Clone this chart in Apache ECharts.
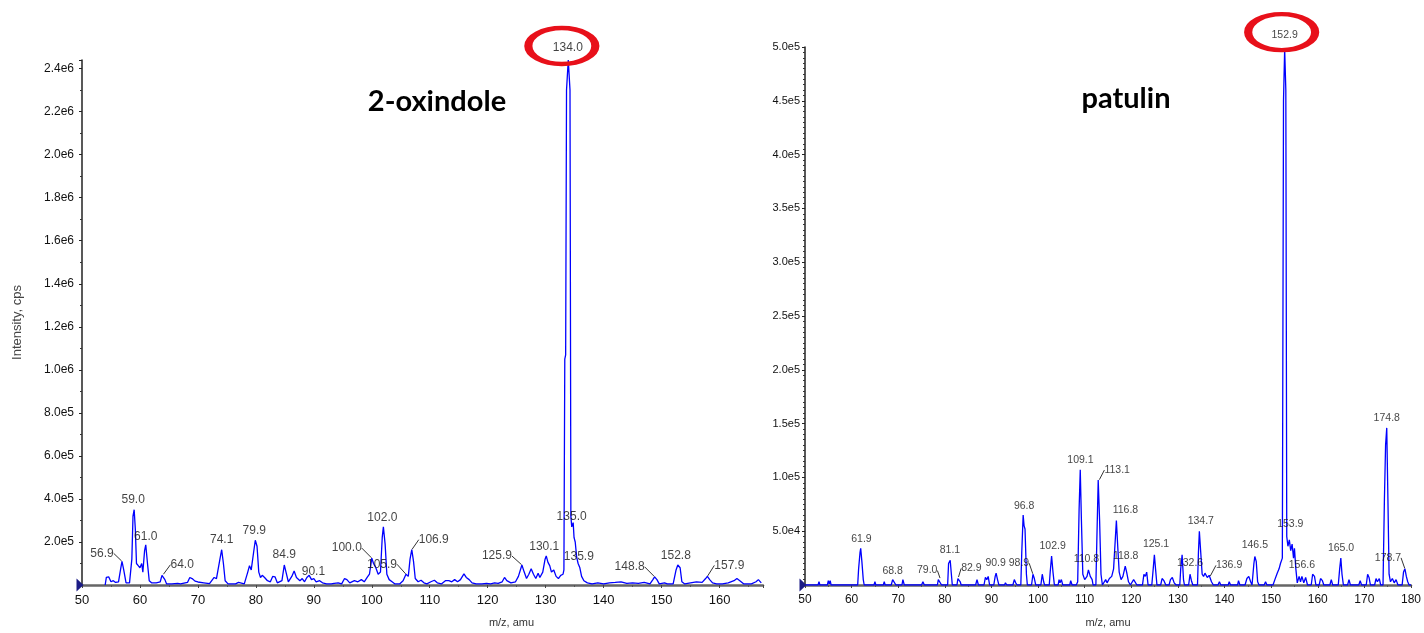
<!DOCTYPE html>
<html>
<head>
<meta charset="utf-8">
<script src="https://cdn.jsdelivr.net/npm/echarts@6/dist/echarts.min.js"></script>
<style>
html,body{margin:0;padding:0;background:#fff;}
#c{width:1424px;height:633px;}
</style>
</head>
<body>
<div id="c"></div>
<script>
// ---------- 2-oxindole (left) profile spectrum ----------
const mzL = [54.0,54.2,54.6,55.0,55.4,55.8,56.3,56.7,56.9,57.2,57.6,58.2,58.6,58.8,59.0,59.2,59.4,59.7,60.0,60.3,60.5,60.8,61.0,61.3,61.6,62.0,62.8,63.5,63.8,64.0,64.3,64.6,65.5,66.5,67.0,68.2,68.6,69.0,69.5,70.0,71.0,72.0,72.8,73.2,73.8,74.1,74.4,74.7,75.2,76.5,77.0,77.3,78.0,78.6,78.9,79.2,79.6,79.9,80.2,80.5,80.8,81.1,81.5,82.0,82.5,82.9,83.3,83.7,84.5,84.9,85.2,85.6,86.2,86.6,87.0,87.6,88.0,88.4,88.8,89.2,89.6,90.0,90.4,91.0,91.5,92.2,93.0,93.5,94.2,94.8,95.3,95.7,96.2,97.0,97.6,98.2,98.7,99.2,99.6,100.0,100.3,100.7,101.1,101.5,101.8,102.0,102.3,102.6,103.0,103.5,104.0,104.8,105.4,105.9,106.3,106.6,106.9,107.2,107.5,108.0,108.5,109.0,109.5,110.2,110.8,111.3,112.0,112.7,113.3,113.8,114.3,114.8,115.3,115.9,116.3,116.8,117.3,118.0,119.0,119.8,120.5,121.2,121.8,122.5,122.9,123.3,124.0,124.8,125.3,125.9,126.3,126.7,127.1,127.5,127.9,128.3,128.7,129.0,129.5,129.9,130.1,130.4,130.7,131.0,131.4,131.8,132.2,132.6,133.0,133.15,133.3,133.45,133.6,133.9,134.2,134.35,134.5,134.75,134.9,135.1,135.35,135.6,135.9,136.2,136.6,137.2,138.0,139.0,140.0,141.0,142.0,143.0,144.0,145.0,146.0,147.0,148.0,148.5,148.8,149.2,149.6,150.5,151.0,152.0,152.5,152.8,153.2,153.5,154.0,155.0,156.0,157.0,157.6,157.9,158.3,158.8,159.5,160.5,161.5,162.5,163.0,163.5,164.2,165.5,166.3,166.7,167.2];
const intL = [0,3.5e4,3.8e4,1.5e4,2.0e4,1.2e4,1.5e4,8e4,1.1e5,7e4,1.0e4,1.0e4,1.2e5,3.2e5,3.5e5,2.6e5,1.0e5,9e4,8e4,1.0e5,6e4,1.6e5,1.87e5,1.0e5,2e4,1e4,1e4,1.5e4,4.5e4,4.8e4,2.5e4,5e3,5e3,8e3,5e3,1.2e4,3.5e4,3e4,1.8e4,1.4e4,1e4,6e3,3.5e4,3e4,1.2e5,1.64e5,1.0e5,2e4,5e3,5e3,1.2e4,4e3,5e3,6e4,9e4,7e4,1.5e5,2.08e5,1.8e5,6e4,3.5e4,4.5e4,3.5e4,2e4,1.5e4,4e4,3.8e4,1e4,2e4,9.3e4,6e4,1.5e4,4e4,6.5e4,3.5e4,2e4,3e4,1.5e4,3.5e4,4.5e4,2.5e4,3e4,1.5e4,2e4,1e4,5e3,5e3,8e3,1e4,5e3,3e4,2.5e4,1e4,2e4,1.5e4,2.5e4,1.5e4,3.5e4,5e4,1.25e5,1.0e5,8e4,5e4,6e4,2.2e5,2.7e5,1.9e5,5e4,2.5e4,1.5e4,5e3,5e3,2e4,5e4,4e4,1.2e5,1.64e5,1.1e5,3e4,1.5e4,2.2e4,1e4,5e3,1.5e4,2.2e4,1e4,5e3,2e4,2e4,1.5e4,2.5e4,1.5e4,2.5e4,5.2e4,3.5e4,2.5e4,1e4,5e3,5e3,8e3,5e3,1e4,8e3,1.5e4,3.5e4,2e4,1e4,1.5e4,4e4,9.3e4,6e4,3e4,5e4,7.5e4,5e4,3e4,5.5e4,3.5e4,6e4,1.2e5,1.35e5,1.05e5,9e4,6e4,7e4,4e4,3e4,4.5e4,5e4,7e4,1.05e6,1.07e6,2.3e6,2.44e6,2.3e6,3.2e5,2.7e5,2.9e5,2.2e5,2.0e5,1.3e5,1.0e5,8e4,4e4,2e4,1e4,5e3,1e4,5e3,1e4,1.2e4,1.5e4,8e3,1e4,8e3,1.2e4,5e3,2.5e4,3.8e4,2.5e4,5e3,1e4,5e3,5e3,7e4,9.3e4,8e4,1.5e4,5e3,1e4,1.5e4,1.2e4,3e4,4e4,2.5e4,1e4,5e3,5e3,1e4,2e4,3e4,2e4,5e3,5e3,1.5e4,2.5e4,1e4];
const peakMzL  = [56.9,59.0,61.0,64.0,74.1,79.9,84.9,90.1,100.0,102.0,105.9,106.9,125.9,130.1,134.0,135.0,135.9,148.8,152.8,157.9];
const peakIntL = [1.1e5,3.5e5,1.87e5,4.8e4,1.64e5,2.08e5,9.3e4,3e4,1.25e5,2.7e5,5e4,1.64e5,9.3e4,1.35e5,2.44e6,2.9e5,1.0e5,3.8e4,9.3e4,4e4];
const xTicksL = {min: 50, max: 167.5, interval: 10};
const yTicksL = {min: 0, max: 2.44e6, interval: 2e5};

// ---------- patulin (right) profile spectrum ----------
const mzR = [50.0,52.8,53.0,53.2,54.8,55.0,55.2,55.4,55.6,61.3,61.5,61.8,61.95,62.2,62.5,62.7,64.8,65.0,65.2,66.8,67.0,67.2,68.5,68.8,69.2,69.5,70.8,71.0,71.3,75.0,75.3,75.6,78.4,78.6,79.0,79.3,80.6,80.8,81.0,81.15,81.4,81.6,82.6,82.8,83.0,83.3,83.5,86.6,86.9,87.2,88.4,88.7,89.0,89.3,89.6,90.5,90.8,91.0,91.3,91.6,92.8,93.0,93.3,94.6,94.9,95.2,95.5,96.3,96.5,96.8,97.0,97.2,97.5,97.7,98.6,98.9,99.2,99.5,100.6,100.9,101.2,101.4,102.4,102.6,102.9,103.2,103.5,104.3,104.5,104.7,105.0,105.3,106.8,107.0,107.3,108.2,108.5,108.8,109.05,109.3,109.6,110.0,110.5,110.8,111.2,111.6,111.8,112.4,112.6,112.9,113.2,113.5,113.8,114.2,114.5,114.8,115.3,115.8,116.2,116.6,116.8,117.1,117.4,117.8,118.2,118.7,119.0,119.4,119.8,120.2,120.5,120.9,121.2,122.4,122.7,123.0,123.3,123.6,124.4,124.7,124.95,125.2,125.5,126.3,126.6,127.0,127.4,128.1,128.4,128.8,129.2,129.6,130.4,130.6,130.9,131.2,131.4,132.3,132.6,132.9,133.2,134.2,134.4,134.6,134.9,135.2,135.5,135.8,136.3,136.7,137.2,137.6,138.6,138.9,139.2,140.8,141.0,141.3,142.8,143.0,143.3,144.4,144.8,145.2,145.6,145.9,146.1,146.3,146.5,146.8,147.1,147.4,148.5,148.8,149.1,150.4,150.8,151.3,151.7,152.0,152.4,152.55,152.65,152.9,153.15,153.35,153.6,153.9,154.2,154.5,154.8,155.0,155.3,155.6,156.0,156.3,156.6,157.0,157.4,157.8,158.6,158.9,159.3,159.6,160.3,160.6,161.0,161.3,162.6,162.9,163.2,164.4,164.7,164.95,165.2,165.5,166.4,166.7,167.0,168.8,169.1,169.4,170.4,170.7,171.0,171.3,172.2,172.5,172.8,173.2,173.5,174.0,174.3,174.55,174.8,175.05,175.3,175.6,176.0,176.4,176.8,177.2,178.1,178.4,178.7,179.0,179.3,179.6,180.0];
const intR = [0,0,3e3,0,0,4e3,1e3,4e3,0,0,1.5e4,3.0e4,3.4e4,2.2e4,5e3,0,0,3e3,0,0,3e3,0,0,5e3,4e3,0,0,5e3,0,0,3e3,0,0,5e3,6e3,0,0,2e4,2.1e4,2.3e4,1e4,0,0,6e3,7e3,3e3,0,0,5e3,0,0,7e3,5e3,8e3,0,0,8e3,1.1e4,5e3,0,0,2e3,0,0,5e3,2e3,0,0,3e4,6.5e4,5.5e4,5.2e4,1e4,0,0,1e4,6e3,0,0,1e4,3e3,0,0,1.2e4,2.7e4,1.2e4,0,0,5e3,2e3,5e3,0,0,4e3,0,0,3e3,7e4,1.07e5,6e4,1e4,5e3,8e3,1.4e4,8e3,5e3,0,0,4e4,9.75e4,6e4,1e4,0,0,5e3,2e3,6e3,8e3,1.5e4,4.5e4,6.0e4,3.5e4,1.2e4,5e3,8e3,1.75e4,1.2e4,3e3,0,0,5e3,4e3,0,0,1e4,8e3,1.2e4,0,0,1.5e4,2.8e4,1.5e4,0,0,6e3,4e3,0,0,5e3,7e3,2e3,0,0,1.5e4,2.8e4,5e3,0,0,1e4,4e3,0,0,3e4,5.0e4,3e4,1e4,8e3,1.1e4,7e3,9e3,3e3,0,0,3e3,0,0,3e3,0,0,4e3,0,0,6e3,8e3,3e3,0,0,2e4,2.65e4,2.2e4,3e3,0,0,3e3,0,0,5e3,1.1e4,1.5e4,2e4,2.5e4,2.5e4,4.5e5,4.98e5,4.6e5,4.5e4,3.6e4,4.2e4,3.2e4,3.8e4,2.5e4,3.4e4,1.5e4,2e3,8e3,3e3,8e3,2e3,7e3,0,0,1e4,8e3,0,0,6e3,4e3,0,0,5e3,0,0,1.5e4,2.5e4,1e4,0,0,5e3,0,0,4e3,0,0,1e4,7e3,0,0,6e3,3e3,6e3,0,0,8e4,1.3e5,1.46e5,8e4,1e4,3e3,6e3,2e3,5e3,0,0,1.2e4,1.5e4,8e3,3e3,0,0];
const peakMzR  = [61.9,68.8,79.0,81.1,82.9,90.9,96.8,98.9,102.9,109.1,110.8,113.1,116.8,118.8,125.1,132.6,134.7,136.9,146.5,152.9,153.9,156.6,165.0,174.8,178.7];
const peakIntR = [3.4e4,5e3,6e3,2.3e4,7e3,1.1e4,6.5e4,1e4,2.7e4,1.07e5,1.4e4,9.75e4,6.0e4,1.75e4,2.8e4,1.0e4,5.0e4,8e3,2.65e4,4.98e5,4.2e4,8e3,2.5e4,1.46e5,1.5e4];
const xTicksR = {min: 50, max: 180, interval: 10};
const yTicksR = {min: 0, max: 5.0e5, interval: 5e4};

// ---------- text ----------
const titleL = '2-oxindole';
const titleR = 'patulin';
const xName = 'm/z, amu';
const yName = 'Intensity, cps';
const circledL = 134.0;
const circledR = 152.9;

// ---------- layout (pixels), kept apart from data ----------
const labelOffL = [[-20,-8],[-1,-10],[0,-8],[19,-10],[0,-10],[-1,-10],[0,-10],[-1,-7],[-25,-10],[-1,-9],[-24,-10],[22,-10],[-25,-9],[-2,-9],[-1,-12],[-3,-6],[-1,-7],[-25,-10],[-2,-9],[22,-11]];
const leaderL = [56.9,64.0,100.0,105.9,106.9,125.9,148.8,157.9];
const labelOffR = [[1,-9],[0,-9],[-13,-8],[0,-10],[13,-9],[0,-10],[1,-9],[-14,-11],[1,-10],[0,-10],[-2,-11],[18,-10],[9,-10],[0,-10],[1,-11],[0,-11],[1,-10],[19,-11],[0,-11],[0,-14],[1,-16],[0,-11],[0,-10],[0,-10],[-17,-11]];
const leaderR = [79.0,82.9,98.9,113.1,136.9,178.7];

const SANS = '"Liberation Sans", Arial, sans-serif';

function sci(v) {
  if (v === 0) return '';
  let e = Math.floor(Math.log10(v) + 1e-9);
  let m = v / Math.pow(10, e);
  let s = m.toFixed(1);
  if (s === '10.0') { e += 1; s = '1.0'; }
  return s + 'e' + e;
}
function zip(a, b) { return a.map((x, i) => [x, b[i]]); }

function peakData(mz, inten, leaders) {
  return mz.map((m, i) => ({
    value: [m, inten[i]],
    name: m.toFixed(1),
    labelLine: { show: leaders.indexOf(m) >= 0 }
  }));
}

function xAxisCfg(t, gridIndex, fs, showMax, namePadLeft) {
  return {
    type: 'value', gridIndex: gridIndex, min: t.min, max: t.max, interval: t.interval,
    name: xName, nameLocation: 'middle', nameGap: 32,
    nameTextStyle: { fontFamily: SANS, fontSize: 11, color: '#333', padding: [0, 0, 0, namePadLeft] },
    axisLine: { show: true, onZero: false, lineStyle: { color: '#666', width: 2.5 } },
    axisTick: { show: true, length: 3, lineStyle: { color: '#444' } },
    minorTick: { show: true, splitNumber: 2, length: 2, lineStyle: { color: '#555' } },
    axisLabel: { fontFamily: SANS, fontSize: fs, color: '#111', margin: 9, showMaxLabel: showMax, showMinLabel: true },
    splitLine: { show: false }
  };
}
function yAxisCfg(t, gridIndex, fs, minorSplit, margin, withName) {
  const c = {
    type: 'value', gridIndex: gridIndex, min: t.min, max: t.max, interval: t.interval,
    axisLine: { show: true, lineStyle: { color: '#222', width: 1.5 } },
    axisTick: { show: true, length: 3, lineStyle: { color: '#222' } },
    minorTick: { show: true, splitNumber: minorSplit, length: 2, lineStyle: { color: '#333' } },
    axisLabel: { fontFamily: SANS, fontSize: fs, color: '#111', margin: margin, formatter: sci, showMaxLabel: (t.max % t.interval) < 1 },
    splitLine: { show: false }
  };
  if (withName) {
    c.name = yName; c.nameLocation = 'middle'; c.nameGap = 58;
    c.nameTextStyle = { fontFamily: SANS, fontSize: 13, color: '#444' };
  }
  return c;
}

function lineSeries(data, xi, circled, circledVal, ringOffset) {
  return {
    type: 'line', xAxisIndex: xi, yAxisIndex: xi, data: data,
    showSymbol: false, symbol: 'none', silent: true, animation: false, z: 3,
    lineStyle: { color: '#0000ff', width: 1.3 },
    markPoint: {
      silent: true, animation: false,
      label: { show: false },
      data: [
        { coord: [50, 0], symbol: 'triangle', symbolSize: [13, 7], symbolRotate: -90, symbolOffset: [-2, 0],
          itemStyle: { color: '#1b1b86' } },
        { coord: [circled, circledVal], symbol: 'circle', symbolSize: [67, 36], symbolOffset: ringOffset,
          itemStyle: { color: 'rgba(0,0,0,0)', borderColor: '#e8101a', borderWidth: 6 } }
      ]
    }
  };
}
function labelSeries(mz, inten, leaders, offs, xi, fs) {
  return {
    type: 'scatter', xAxisIndex: xi, yAxisIndex: xi, data: peakData(mz, inten, leaders),
    symbolSize: 1, itemStyle: { color: 'rgba(0,0,0,0)' }, silent: true, animation: false, z: 5,
    label: { show: true, position: 'inside', formatter: '{b}', fontFamily: SANS, fontSize: fs, color: '#111', textBorderWidth: 0 },
    labelLine: { show: false, length2: 0, lineStyle: { color: '#333', width: 1 } },
    labelLayout: function (p) { const o = offs[p.dataIndex]; return { dx: o[0], dy: o[1] }; }
  };
}

const chart = echarts.init(document.getElementById('c'), null, { renderer: 'canvas' });
chart.setOption({
  animation: false,
  backgroundColor: '#ffffff',
  grid: [
    { left: 82, right: 661, top: 60, bottom: 46 },
    { left: 805, right: 5, top: 47, bottom: 46 }
  ],
  xAxis: [
    xAxisCfg(xTicksL, 0, 13, false, 178),
    xAxisCfg(xTicksR, 1, 12, true, 0)
  ],
  yAxis: [
    yAxisCfg(yTicksL, 0, 12, 2, 8, true),
    yAxisCfg(yTicksR, 1, 11, 10, 5, false)
  ],
  series: [
    lineSeries(zip(mzL, intL), 0, circledL, peakIntL[peakMzL.indexOf(circledL)], [-7, -14]),
    labelSeries(peakMzL, peakIntL, leaderL, labelOffL, 0, 12),
    lineSeries(zip(mzR, intR), 1, circledR, peakIntR[peakMzR.indexOf(circledR)], [-3, -17]),
    labelSeries(peakMzR, peakIntR, leaderR, labelOffR, 1, 10.5)
  ],
  graphic: [
    { type: 'text', x: 437, y: 102, silent: true,
      style: { text: titleL, fontFamily: 'Lato, "Open Sans", sans-serif', fontWeight: 'bold', fontSize: 29, fill: '#000', textAlign: 'center', textVerticalAlign: 'middle' } },
    { type: 'text', x: 1126, y: 99, silent: true,
      style: { text: titleR, fontFamily: 'Lato, "Open Sans", sans-serif', fontWeight: 'bold', fontSize: 29, fill: '#000', textAlign: 'center', textVerticalAlign: 'middle' } }
  ]
});
</script>
</body>
</html>
